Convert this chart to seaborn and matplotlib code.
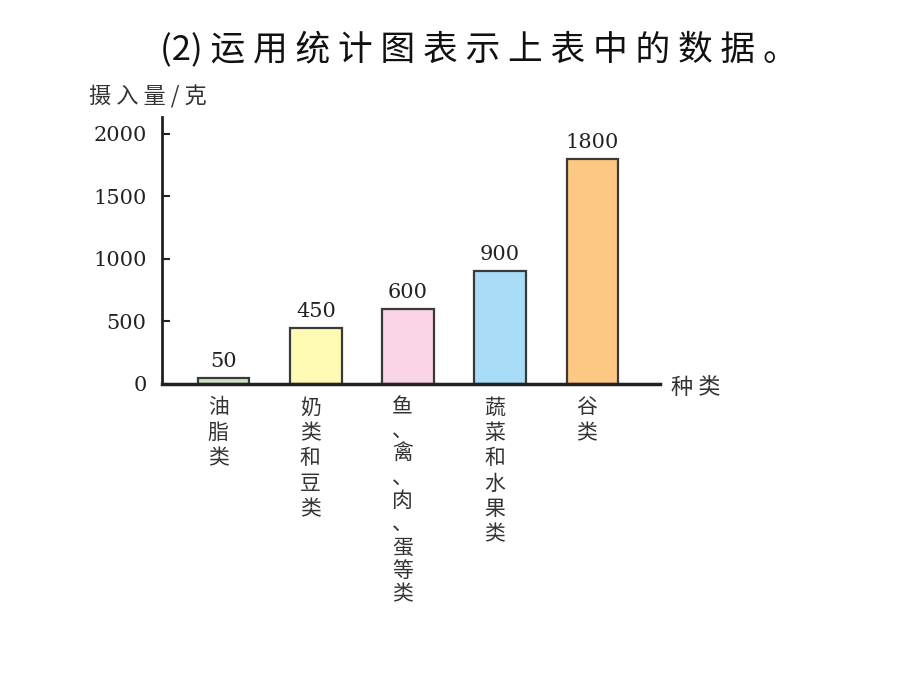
import matplotlib
matplotlib.use("Agg")
import matplotlib.pyplot as plt
import seaborn as sns
import pandas as pd

categories = ["油脂类", "奶类和豆类", "鱼、禽、肉、蛋等类", "蔬菜和水果类", "谷类"]
values = [50, 450, 600, 900, 1800]
bar_colors = ["#cfe3c6", "#fffbb4", "#f9d3e6", "#a9ddf7", "#fdc883"]
y_ticks = [0, 500, 1000, 1500, 2000]
title = "(2) 运 用 统 计 图 表 示 上 表 中 的 数 据 。"
y_label = "摄 入 量 / 克"
x_label = "种 类"

sns.set_theme(style="white")
plt.rcParams['font.family'] = ['Noto Sans CJK SC', 'DejaVu Sans']

df = pd.DataFrame({"cat": categories, "val": values})

fig = plt.figure(figsize=(9.2, 6.9), dpi=100)
fig.patch.set_facecolor("white")
ax = fig.add_axes([0.176, 0.4435, 0.541, 0.3865])
ax.set_facecolor("white")

sns.barplot(data=df, x="cat", y="val", hue="cat", palette=bar_colors,
            legend=False, width=0.56, edgecolor="#3a3a3a", linewidth=1.6,
            saturation=1, ax=ax)

ax.set_xlim(-0.67, 4.73)
ax.set_ylim(0, 2130)
ax.set_yticks(y_ticks)
ax.set_yticklabels([str(t) for t in y_ticks], family="DejaVu Serif",
                   fontsize=15, color="#222222")
ax.tick_params(axis="y", direction="in", length=6, width=1.5, color="#222222",
               pad=11, left=True)
ax.set_xticks([])
ax.set_xlabel("")
ax.set_ylabel("")
for side in ["top", "right"]:
    ax.spines[side].set_visible(False)
ax.spines["left"].set_linewidth(2)
ax.spines["left"].set_color("#222222")
ax.spines["bottom"].set_linewidth(2.5)
ax.spines["bottom"].set_color("#222222")

for i, v in enumerate(values):
    ax.annotate(str(v), (i, v), xytext=(0, 5), textcoords="offset points",
                ha="center", va="bottom", family="DejaVu Serif",
                fontsize=15, color="#222222")

for i, c in enumerate(categories):
    ls = 1.08 if "、" in c else 1.2
    ax.annotate("\n".join(c), (i, 0), xytext=(-4, -9), textcoords="offset points",
                ha="center", va="top", fontsize=15, color="#333333",
                linespacing=ls)

fig.text(0.174, 0.928, title, fontsize=25, ha="left", va="center", color="#111111")
fig.text(0.097, 0.859, y_label, fontsize=16, ha="left", va="center", color="#333333")
fig.text(0.729, 0.439, x_label, fontsize=16, ha="left", va="center", color="#333333")

fig.savefig("out.png", dpi=100, facecolor="white")
